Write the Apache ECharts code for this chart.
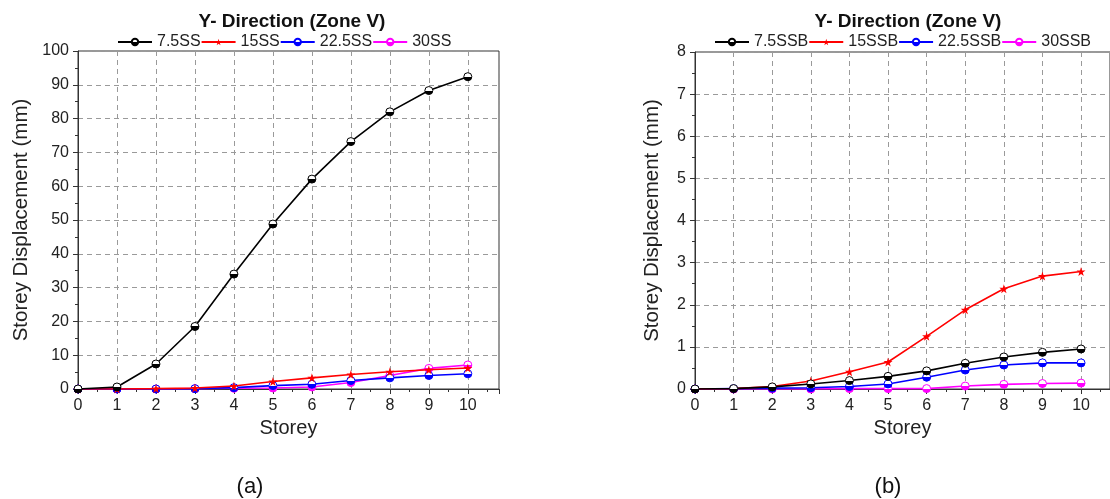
<!DOCTYPE html>
<html><head><meta charset="utf-8">
<script src="https://cdn.jsdelivr.net/npm/echarts@6/dist/echarts.min.js"></script>
<style>html,body{margin:0;padding:0;background:#fff}#c{width:1110px;height:499px}</style>
</head><body><div id="c"></div>
<script>
const storeys = [0,1,2,3,4,5,6,7,8,9,10];
const namesA = ['7.5SS','15SS','22.5SS','30SS'];
const namesB = ['7.5SSB','15SSB','22.5SSB','30SSB'];
const ss75  = [0,0.6,7.4,18.5,34.0,48.8,62.1,73.2,82.0,88.3,92.4];
const ss15  = [0,0,0.1,0.3,0.9,2.2,3.3,4.3,5.1,5.7,6.2];
const ss225 = [0,0,0,0.1,0.4,1.0,1.4,2.5,3.3,4.0,4.5];
const ss30  = [0,0,0,0.1,0.2,0.3,0.6,1.9,4.0,6.1,7.1];
const ssb75  = [0,0.01,0.05,0.12,0.2,0.3,0.43,0.61,0.76,0.87,0.95];
const ssb15  = [0,0.01,0.06,0.19,0.41,0.64,1.25,1.88,2.38,2.68,2.79];
const ssb225 = [0,0.01,0.02,0.03,0.06,0.12,0.28,0.45,0.57,0.62,0.62];
const ssb30  = [0,0,0,0,0.01,0.01,0.01,0.07,0.11,0.13,0.14];
const colors = ['#000000','#ff0000','#0000ff','#ff00ff'];

const star = 'path://M50,0 L61,35 L98,35 L68,57 L79,91 L50,70 L21,91 L32,57 L2,35 L39,35 Z';
function halfFill(c){
  return {type:'linear',x:0,y:0,x2:0,y2:1,colorStops:[
    {offset:0,color:'#ffffff'},{offset:0.5,color:'#ffffff'},
    {offset:0.5,color:c},{offset:1,color:c}]};
}
function mkSeries(name, data, idx, gi){
  const c = colors[idx];
  const isStar = idx === 1;
  return {
    name, type:'line', xAxisIndex:gi, yAxisIndex:gi,
    data: storeys.map((s,i)=>[s,data[i]]),
    symbol: isStar ? star : 'circle',
    symbolSize: isStar ? 9 : 8,
    showSymbol:true, animation:false,
    lineStyle:{color:c,width:1.6},
    itemStyle: isStar ? {color:c,borderWidth:0} : {color:halfFill(c),borderColor:c,borderWidth:1},
    z: 10-idx
  };
}
const dataA=[ss75,ss15,ss225,ss30], dataB=[ssb75,ssb15,ssb225,ssb30];
const series=[];
namesA.forEach((n,i)=>series.push(mkSeries(n,dataA[i],i,0)));
namesB.forEach((n,i)=>series.push(mkSeries(n,dataB[i],i,1)));

const font='Liberation Sans, Arial, sans-serif';
const lbl={fontFamily:font,fontSize:16,color:'#222',margin:9};
function xAx(gi,max){
  return {type:'value',gridIndex:gi,min:0,max:max,interval:1,
    axisLine:{show:true,onZero:false,lineStyle:{color:'#333',width:1}},
    axisTick:{show:true,length:5,lineStyle:{color:'#333'}},
    minorTick:{show:true,splitNumber:2,length:3,lineStyle:{color:'#333'}},
    axisLabel:Object.assign({showMaxLabel:false},lbl),
    splitLine:{show:true,lineStyle:{color:'#9a9a9a',type:[5,4],width:1}},
    name:'Storey',nameLocation:'middle',nameGap:29,
    nameTextStyle:{fontFamily:font,fontSize:20,color:'#222'}};
}
function yAx(gi,max,interval,gap){
  return {type:'value',gridIndex:gi,min:0,max:max,interval:interval,
    axisLine:{show:true,lineStyle:{color:'#333',width:1}},
    axisTick:{show:true,length:5,lineStyle:{color:'#333'}},
    minorTick:{show:true,splitNumber:2,length:3,lineStyle:{color:'#333'}},
    axisLabel:lbl,
    splitLine:{show:true,lineStyle:{color:'#9a9a9a',type:[5,4],width:1}},
    name:'Storey Displacement (mm)',nameLocation:'middle',nameRotate:90,nameGap:gap,
    nameTextStyle:{fontFamily:font,fontSize:20.5,color:'#222'}};
}
const legendCommon={orient:'horizontal',itemWidth:34,itemHeight:8,itemGap:0,padding:0,width:480,
  textStyle:{fontFamily:font,fontSize:16,color:'#222'},top:34,selectedMode:false};

const chart=echarts.init(document.getElementById('c'),null,{renderer:'canvas'});
chart.setOption({
  backgroundColor:'#ffffff',
  animation:false,
  title:[
    {text:'Y- Direction (Zone V)',left:287,top:7,textAlign:'center',textStyle:{fontFamily:font,fontSize:19,fontWeight:'bold',color:'#111'}},
    {text:'Y- Direction (Zone V)',left:903,top:7,textAlign:'center',textStyle:{fontFamily:font,fontSize:19,fontWeight:'bold',color:'#111'}}
  ],
  legend:[
    Object.assign({data:namesA,left:117},legendCommon),
    Object.assign({data:namesB,left:714},legendCommon)
  ],
  grid:[
    {left:78,top:51,width:421,height:338,show:true,borderColor:'#333',borderWidth:1,backgroundColor:'transparent'},
    {left:695,top:52,width:418,height:337,show:true,borderColor:'#333',borderWidth:1,backgroundColor:'transparent'}
  ],
  xAxis:[xAx(0,10.8),xAx(1,10.75)],
  yAxis:[yAx(0,100,10,46),yAx(1,8,1,32)],
  series:series,
  graphic:[
    {type:'text',style:{text:'(a)',x:250,y:487,textAlign:'center',textVerticalAlign:'middle',fontFamily:font,fontSize:22,fill:'#111'}},
    {type:'text',style:{text:'(b)',x:888,y:487,textAlign:'center',textVerticalAlign:'middle',fontFamily:font,fontSize:22,fill:'#111'}}
  ]
});
</script></body></html>
